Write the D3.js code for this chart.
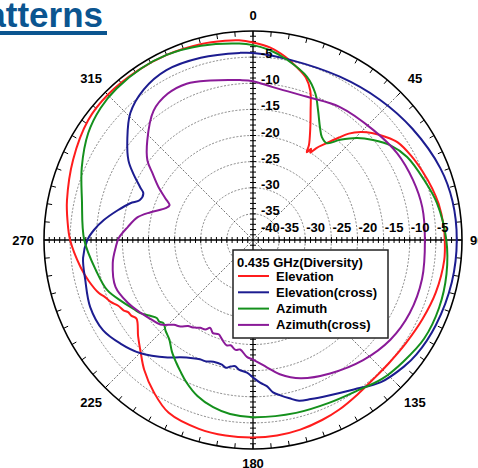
<!DOCTYPE html>
<html>
<head>
<meta charset="utf-8">
<script src="https://cdn.jsdelivr.net/npm/d3@7"></script>
<style>
  html, body { margin: 0; padding: 0; background: #fff; overflow: hidden; }
  svg { display: block; font-family: 'Liberation Sans', Arial, sans-serif; }
</style>
</head>
<body>
<div id="chart"></div>
<script>
// values: [angle in degrees, level in dB]
const elevation = [
  [0, -2.2], [5, -3.0], [10, -4.4], [14, -5.8], [18, -7.3], [21, -9.4], [24, -12.9],
  [27.5, -16.3], [30.5, -18.9], [31.5, -20.3], [32.5, -19.3], [33.3, -20.0], [34.5, -18.7],
  [37, -16.9], [40, -14.4], [42, -12.6], [45, -10.8], [48, -9.4], [52, -7.9], [56, -6.6],
  [62, -5.7], [68, -5.0], [74, -4.3], [79, -3.8], [86, -3.4], [90, -3.3], [96, -3.2],
  [106, -3.6], [115, -4.2], [124, -4.7], [132, -4.9], [139, -4.8], [146, -4.3], [153, -3.6],
  [159, -3.1], [166, -2.6], [173, -2.3], [180, -2.2], [188, -2.2], [196, -2.4], [206, -3.2],
  [213, -5.2], [220, -7.6], [225, -9.6], [230, -11.3], [236, -13.1], [238, -12.6],
  [240, -12.4], [241.5, -11.8], [244, -11.3], [246.5, -10.3], [249, -9.6], [251, -8.8],
  [256, -7.6], [261, -6.6], [270, -5.0], [276, -4.3], [282, -3.6], [294, -2.3], [306, -1.0],
  [315, -0.7], [326, -0.8], [335, -0.9], [345, -1.2], [352, -1.5], [356, -1.7]
]

const elevationCross = [
  [0, -4.2], [12, -4.8], [28, -4.6], [42, -3.8], [55, -2.8], [69, -1.6], [79, -1.1],
  [90, -1.0], [102, -1.1], [115, -1.4], [125, -1.8], [130, -2.3], [138, -3.4], [146, -5.5],
  [154, -6.9], [160, -7.6], [164, -8.0], [167, -8.9], [170, -9.8], [172.5, -10.6],
  [174.6, -11.9], [177, -12.6], [180, -13.7], [182.6, -14.6], [186, -15.0], [188, -15.6],
  [190, -15.4], [192, -15.0], [194, -15.4], [198, -15.5], [201, -15.1], [204, -15.0],
  [207, -14.6], [211.7, -13.6], [216, -12.2], [225, -9.4], [232, -7.8], [239, -6.5],
  [247.6, -6.3], [256.6, -7.0], [264, -7.3], [270, -8.3], [273.6, -9.5], [277.6, -11.2],
  [282.4, -13.5], [286.7, -15.5], [289.3, -17.0], [293, -17.2], [295, -16.2], [299, -13.8],
  [302.6, -11.7], [308.4, -9.3], [316, -6.2], [324, -4.4], [333, -3.5], [344, -3.7],
  [356, -4.1]
]

const azimuth = [
  [0, -2.7], [5, -3.5], [10.7, -4.9], [18.3, -7.1], [23, -9.5], [26.6, -12.2], [30.7, -14.9],
  [33.8, -16.3], [37.3, -16.7], [41, -14.6], [45.6, -12.1], [50.2, -10.1], [55.3, -8.1],
  [61.7, -6.5], [70.6, -5.3], [78.6, -4.1], [90, -3.0], [100, -2.4], [110, -2.1], [120, -2.2],
  [129, -3.0], [137, -3.7], [146, -5.0], [155, -5.6], [166, -5.9], [180, -6.1], [187.5, -6.4],
  [193.4, -7.1], [199.6, -8.3], [205, -9.9], [209, -11.3], [212, -12.3], [216, -13.6],
  [220, -15.1], [224, -15.9], [227, -16.6], [229, -16.2], [231, -16.3], [234, -15.4],
  [237, -14.3], [240, -13.6], [244.5, -12.4], [251, -10.5], [259, -9.4], [270, -7.7],
  [283, -6.4], [293, -4.4], [303, -2.4], [311, -1.4], [318, -1.0], [327, -0.8], [335, -0.9],
  [345, -1.5], [356, -2.3]
]

const azimuthCross = [
  [0, -9.6], [7.4, -10.5], [20.7, -10.7], [33, -9.6], [47.5, -8.8], [59, -7.8], [69.4, -7.3],
  [79, -7.0], [90, -7.1], [103, -6.8], [115, -6.9], [126, -7.5], [137.5, -8.8], [150, -10.5],
  [161, -12.0], [168.7, -13.8], [173.8, -15.5], [180, -17.1], [183, -17.6], [186.7, -18.9],
  [189, -18.7], [192, -19.4], [194, -19.2], [196.4, -19.8], [198, -20.3], [200, -20.8],
  [203.3, -20.6], [206, -21.3], [208, -20.6], [211, -20.4], [213, -20.0], [215, -19.6],
  [217, -19.4], [220, -18.4], [223, -17.8], [227.6, -16.0], [232, -15.3], [237, -14.4],
  [243.4, -13.2], [251.2, -12.2], [260.7, -12.8], [267, -13.7], [270.8, -14.3],
  [275.9, -15.9], [281.2, -17.5], [285.2, -19.7], [290, -22.2], [292.6, -22.7],
  [295.5, -21.4], [299.2, -19.3], [303.6, -16.9], [307, -14.7], [313.3, -12.2],
  [322.4, -8.8], [329.7, -7.6], [337, -7.5], [345, -8.4], [355.4, -9.3]
]

const seriesNames = ['Elevation', 'Elevation(cross)', 'Azimuth', 'Azimuth(cross)']
const seriesData = [elevation, elevationCross, azimuth, azimuthCross]
const legendTitle = '0.435 GHz(Diversity)'

const ringLevels = [-35, -30, -25, -20, -15, -10, -5]
const axisLabelLevels = [-40, -35, -30, -25, -20, -15, -10, -5]
const angleLabels = [0, 45, 90, 135, 180, 225, 270, 315]
const levelDomain = [-40, 0]

const params = {
  width: 478,
  height: 468,
  cx: 253,
  cy: 240,
  radius: 209,
  colors: ['#ff1c1c', '#1c1c90', '#14901c', '#8a1a98']
}

function drawGrid(g, r, angle, params) {
  const { radius } = params

  g.append('g')
    .selectAll('circle')
    .data(ringLevels)
    .join('circle')
    .attr('r', d => r(d))
    .attr('fill', 'none')
    .attr('stroke', '#555')
    .attr('stroke-width', 0.7)
    .attr('stroke-dasharray', '2,1.6')

  g.append('g')
    .selectAll('line')
    .data([45, 135, 225, 315])
    .join('line')
    .attr('x1', 0)
    .attr('y1', 0)
    .attr('x2', d => radius * Math.sin(angle(d)))
    .attr('y2', d => -radius * Math.cos(angle(d)))
    .attr('stroke', '#333')
    .attr('stroke-width', 0.7)
    .attr('stroke-dasharray', '2,1.6')

  // outer ring ticks every 5 degrees
  g.append('g')
    .selectAll('line')
    .data(d3.range(0, 360, 5))
    .join('line')
    .attr('x1', d => (radius - 5) * Math.sin(angle(d)))
    .attr('y1', d => -(radius - 5) * Math.cos(angle(d)))
    .attr('x2', d => radius * Math.sin(angle(d)))
    .attr('y2', d => -radius * Math.cos(angle(d)))
    .attr('stroke', '#000')
    .attr('stroke-width', 1)

  g.append('circle')
    .attr('r', radius)
    .attr('fill', 'none')
    .attr('stroke', '#000')
    .attr('stroke-width', 1.6)

  // cross hair axes with 1 dB ticks
  const axes = g.append('g').attr('stroke', '#000')
  axes.append('line')
    .attr('x1', -radius).attr('x2', radius)
    .attr('y1', 0).attr('y2', 0)
    .attr('stroke-width', 1.3)
  axes.append('line')
    .attr('x1', 0).attr('x2', 0)
    .attr('y1', -radius).attr('y2', radius)
    .attr('stroke-width', 1.3)

  const steps = d3.range(-39, 0).map(d => r(d))
  const ticks = []
  steps.forEach(p => {
    ticks.push([p, -3, p, 3], [-p, -3, -p, 3], [-3, p, 3, p], [-3, -p, 3, -p])
  })
  axes.append('g')
    .selectAll('line')
    .data(ticks)
    .join('line')
    .attr('x1', d => d[0])
    .attr('y1', d => d[1])
    .attr('x2', d => d[2])
    .attr('y2', d => d[3])
    .attr('stroke-width', 1)
}

function drawLabels(g, r, angle, params) {
  g.append('g')
    .attr('font-size', 13)
    .attr('font-weight', 'bold')
    .selectAll('text')
    .data(ringLevels)
    .join('text')
    .attr('x', 8)
    .attr('y', d => -r(d) + 1)
    .text(d => d)

  g.append('g')
    .attr('font-size', 13)
    .attr('font-weight', 'bold')
    .selectAll('text')
    .data(axisLabelLevels)
    .join('text')
    .attr('x', d => r(d) + (d === -40 ? 8 : 1))
    .attr('y', -8)
    .text(d => d)

  const anchor = d => (d === 90 ? 'start' : d === 270 ? 'end' : 'middle')
  const dist = d => {
    if (d === 90) return 217
    if (d === 270) return 219
    if (d === 180) return 223
    return d === 0 ? 225 : 229
  }

  g.append('g')
    .attr('font-size', 13)
    .attr('font-weight', 'bold')
    .selectAll('text')
    .data(angleLabels)
    .join('text')
    .attr('x', d => dist(d) * Math.sin(angle(d)))
    .attr('y', d => -dist(d) * Math.cos(angle(d)))
    .attr('dy', '0.36em')
    .attr('text-anchor', anchor)
    .text(d => d)
}

function drawSeries(g, r, angle, params) {
  const line = d3
    .lineRadial()
    .angle(d => angle(d[0]))
    .radius(d => r(d[1]))
    .curve(d3.curveCatmullRomClosed.alpha(0.5))

  g.append('g')
    .attr('fill', 'none')
    .attr('stroke-width', 2)
    .attr('stroke-linejoin', 'round')
    .selectAll('path')
    .data(seriesData)
    .join('path')
    .attr('stroke', (_, i) => params.colors[i])
    .attr('d', line)
}

function drawLegend(svg, params) {
  const x0 = 233
  const y0 = 250
  const leg = svg.append('g').attr('transform', `translate(${x0}, ${y0})`)

  leg.append('rect')
    .attr('width', 155)
    .attr('height', 88)
    .attr('fill', '#fff')
    .attr('stroke', '#222')
    .attr('stroke-width', 1.5)

  leg.append('text')
    .attr('x', 4)
    .attr('y', 17)
    .attr('font-size', 13)
    .attr('font-weight', 'bold')
    .text(legendTitle)

  const rows = leg
    .selectAll('g.row')
    .data(seriesNames)
    .join('g')
    .attr('class', 'row')
    .attr('transform', (_, i) => `translate(0, ${26 + i * 16.3})`)

  rows.append('line')
    .attr('x1', 5)
    .attr('x2', 36)
    .attr('stroke', (_, i) => params.colors[i])
    .attr('stroke-width', 2)

  rows.append('text')
    .attr('x', 43)
    .attr('y', 4.5)
    .attr('font-size', 13)
    .attr('font-weight', 'bold')
    .text(d => d)
}

function drawTitle(svg) {
  svg.append('text')
    .attr('x', 103)
    .attr('y', 27)
    .attr('text-anchor', 'end')
    .attr('font-size', 35)
    .attr('font-weight', 'bold')
    .attr('fill', '#0b5590')
    .text('Patterns')

  svg.append('rect')
    .attr('x', 0)
    .attr('y', 31)
    .attr('width', 107)
    .attr('height', 4)
    .attr('fill', '#0b5590')
}

function drawChart(selector, params) {
  const { width, height, cx, cy, radius } = params

  const svg = d3
    .select(selector)
    .append('svg')
    .attr('width', width)
    .attr('height', height)
    .attr('viewBox', [0, 0, width, height])

  const r = d3.scaleLinear().domain(levelDomain).range([0, radius])
  const angle = d3.scaleLinear().domain([0, 360]).range([0, 2 * Math.PI])

  const g = svg.append('g').attr('transform', `translate(${cx}, ${cy})`)

  drawGrid(g, r, angle, params)
  drawSeries(g, r, angle, params)
  drawLabels(g, r, angle, params)
  drawLegend(svg, params)
  drawTitle(svg)
}

drawChart('#chart', params)
</script>
</body>
</html>
